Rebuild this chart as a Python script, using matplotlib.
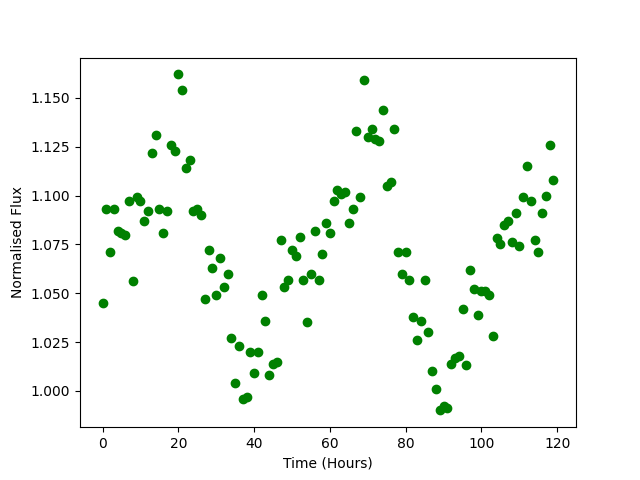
import matplotlib
matplotlib.use("Agg")
import matplotlib.pyplot as plt
import numpy as np

# hourly flux readings
hours = np.arange(120)
flux = [
    1.045, 1.093, 1.071, 1.093, 1.082, 1.081, 1.080, 1.097, 1.056, 1.099,
    1.097, 1.087, 1.092, 1.122, 1.131, 1.093, 1.081, 1.092, 1.126, 1.123,
    1.162, 1.154, 1.114, 1.118, 1.092, 1.093, 1.090, 1.047, 1.072, 1.063,
    1.049, 1.068, 1.053, 1.060, 1.027, 1.004, 1.023, 0.996, 0.997, 1.020,
    1.009, 1.020, 1.049, 1.036, 1.008, 1.014, 1.015, 1.077, 1.053, 1.057,
    1.072, 1.069, 1.079, 1.057, 1.035, 1.060, 1.082, 1.057, 1.070, 1.086,
    1.081, 1.097, 1.103, 1.101, 1.102, 1.086, 1.093, 1.133, 1.099, 1.159,
    1.130, 1.134, 1.129, 1.128, 1.144, 1.105, 1.107, 1.134, 1.071, 1.060,
    1.071, 1.057, 1.038, 1.026, 1.036, 1.057, 1.030, 1.010, 1.001, 0.990,
    0.992, 0.991, 1.014, 1.017, 1.018, 1.042, 1.013, 1.062, 1.052, 1.039,
    1.051, 1.051, 1.049, 1.028, 1.078, 1.075, 1.085, 1.087, 1.076, 1.091,
    1.074, 1.099, 1.115, 1.097, 1.077, 1.071, 1.091, 1.100, 1.126, 1.108,
]

plt.figure(figsize=(6.4, 4.8), dpi=100)
plt.plot(hours, flux, 'o', color='green')
plt.xlabel("Time (Hours)")
plt.ylabel("Normalised Flux")
plt.savefig("out.png")
